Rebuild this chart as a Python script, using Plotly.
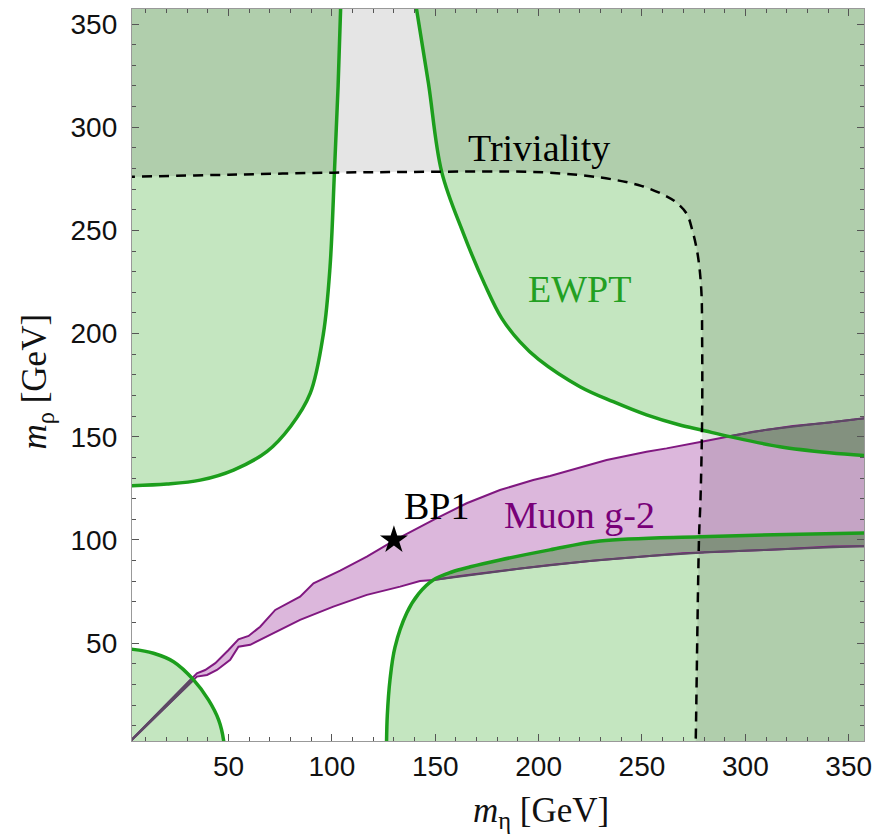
import numpy as np
import plotly.graph_objects as go

# ---- axis extents (GeV) ----
X_RANGE = [3.3, 357.4]
Y_RANGE = [2.6, 357.3]
LO, HI = -5.0, 365.0  # closing corners for the shaded regions (outside the frame)

# ---- EWPT exclusion boundaries ----
ewpt_tl_x = [0.0, 20.2, 36.3, 52.4, 68.5, 80.0, 89.5, 95.9, 99.1, 101.2, 103.0, 104.3]
ewpt_tl_y = [126.2, 127.1, 129.0, 133.9, 142.8, 155.0, 171.0, 200.0, 232.4, 277.6, 320.0, 360.0]

ewpt_tr_x = [140.5, 146.7, 153.1, 163.6, 174.1, 182.1, 191.0, 200.0, 220.0, 236.1, 252.2, 268.3, 278.8, 292.5, 316.7, 340.8, 360.0]
ewpt_tr_y = [360.0, 321.3, 278.4, 248.6, 223.5, 207.5, 196.0, 187.5, 174.3, 167.0, 160.6, 155.7, 153.3, 150.1, 145.2, 142.3, 140.8]

ewpt_br_x = [126.4, 126.8, 128.1, 130.5, 136.2, 142.0, 149.0, 158.0, 167.0, 181.3, 205.4, 229.7, 278.0, 320.0, 360.0]
ewpt_br_y = [0.0, 15.0, 32.2, 48.0, 64.6, 74.0, 80.6, 84.5, 87.0, 90.3, 95.2, 99.5, 101.6, 102.7, 103.4]

ewpt_bl_x = [0.0, 3.8, 13.7, 23.4, 33.1, 40.3, 45.2, 47.6, 47.8]
ewpt_bl_y = [47.2, 47.0, 45.1, 41.0, 32.2, 22.5, 12.8, 3.0, 0.0]

# ---- triviality bound ----
triv_x = [0.0, 4.1, 50.0, 100.8, 147.5, 195.8, 220.0, 237.0, 250.0, 260.0, 266.0, 271.5, 274.5, 277.0, 278.7, 279.1, 279.1, 278.3, 277.6, 276.0, 275.9]
triv_y = [275.9, 276.0, 277.0, 278.0, 278.4, 278.4, 276.8, 274.5, 271.5, 267.5, 264.0, 258.3, 249.5, 238.0, 221.0, 197.0, 160.0, 119.4, 101.6, 3.1, 0.0]

# ---- muon g-2 band ----
g2_upper_x = [0.0, 34.7, 38.7, 43.6, 50.0, 54.8, 59.7, 65.3, 72.6, 78.2, 84.6, 91.1, 104.0, 116.9, 126.5, 129.8,
              149.1, 165.2, 181.3, 197.4, 205.5, 232.9, 252.2, 261.9, 278.8, 292.5, 303.8, 323.1, 340.8, 357.4, 360.0]
g2_upper_y = [0.0, 35.4, 37.0, 40.3, 46.7, 51.9, 53.5, 58.0, 66.1, 69.0, 72.5, 79.0, 85.2, 91.9, 97.6, 99.6,
              109.7, 117.8, 124.2, 129.1, 131.0, 138.8, 142.8, 144.4, 147.6, 150.4, 152.5, 155.2, 156.9, 159.0, 159.2]
g2_lower_x = [0.0, 34.7, 39.6, 44.4, 50.8, 54.8, 60.5, 71.7, 84.6, 100.7, 116.9, 133.0, 142.6, 149.1, 162.0,
              181.3, 205.4, 229.7, 269.9, 310.2, 342.4, 360.0]
g2_lower_y = [0.0, 33.8, 34.6, 37.0, 41.9, 48.3, 49.2, 54.8, 61.3, 67.7, 73.4, 77.4, 80.1, 80.6, 82.6,
              85.0, 87.9, 90.3, 93.6, 95.2, 96.8, 97.0]

# benchmark point
bp_x, bp_y = [130.0], [100.0]

# ---- colours ----
GREEN_FILL = "rgb(196,230,192)"
GREEN_LINE = "rgb(28,158,28)"
PURPLE_FILL = "rgb(220,183,220)"
PURPLE_LINE = "rgb(128,24,128)"
OVERLAP_FILL = "rgb(146,162,142)"
OVERLAP_LINE = "rgb(92,74,100)"
TRIV_FILL = "rgba(0,0,0,0.10)"

fig = go.Figure()


def area(xs, ys, color):
    fig.add_trace(go.Scatter(x=xs, y=ys, mode="lines", fill="toself", fillcolor=color,
                             line=dict(width=0), hoverinfo="skip"))


def region(cx, cy, bx, by, color):
    """Fill between a smooth boundary (cx, cy) and a straight outer frame (bx, by)."""
    fig.add_trace(go.Scatter(x=bx, y=by, mode="lines", line=dict(width=0), hoverinfo="skip"))
    fig.add_trace(go.Scatter(x=cx, y=cy, mode="lines", line=dict(width=0, shape="spline", smoothing=1.0),
                             fill="tonexty", fillcolor=color, hoverinfo="skip"))


def curve(xs, ys, color, width, dash=None, shape="linear"):
    fig.add_trace(go.Scatter(x=xs, y=ys, mode="lines",
                             line=dict(color=color, width=width, dash=dash, shape=shape,
                                       smoothing=1.0 if shape == "spline" else None),
                             connectgaps=False, hoverinfo="skip"))


# EWPT excluded regions
region(ewpt_tl_x, ewpt_tl_y, [LO, LO, ewpt_tl_x[-1]], [ewpt_tl_y[0], HI, HI], GREEN_FILL)
region(ewpt_tr_x, ewpt_tr_y, [ewpt_tr_x[0], HI, HI], [HI, HI, ewpt_tr_y[-1]], GREEN_FILL)
region(ewpt_br_x, ewpt_br_y, [ewpt_br_x[0], HI, HI], [LO, LO, ewpt_br_y[-1]], GREEN_FILL)
region(ewpt_bl_x, ewpt_bl_y, [LO, LO, ewpt_bl_x[-1]], [ewpt_bl_y[0], LO, LO], GREEN_FILL)

# g-2 preferred band
area(g2_upper_x + g2_lower_x[::-1], g2_upper_y + g2_lower_y[::-1], PURPLE_FILL)

# parts of the band that fall inside the EWPT regions
grid = np.linspace(0.0, 360.0, 1441)
up = np.interp(grid, g2_upper_x, g2_upper_y)
lo = np.interp(grid, g2_lower_x, g2_lower_y)
br = np.interp(grid, ewpt_br_x, ewpt_br_y, left=-1e9)
tr = np.interp(grid, ewpt_tr_x, ewpt_tr_y, left=1e9)
bl = np.interp(grid, ewpt_bl_x, ewpt_bl_y, right=-1e9)


def overlap(mask, top, bot):
    if mask.any():
        gx = grid[mask]
        area(list(np.concatenate([gx, gx[::-1]])),
             list(np.concatenate([top[mask], bot[mask][::-1]])), OVERLAP_FILL)


overlap(br > lo, np.minimum(br, up), lo)
overlap(up > tr, up, np.maximum(tr, lo))
overlap(bl > lo, np.minimum(bl, up), lo)

# triviality excluded region
region(triv_x, triv_y, [LO, LO, HI, HI, triv_x[-1]], [triv_y[0], HI, HI, LO, LO], TRIV_FILL)

# band edges
curve(g2_upper_x, g2_upper_y, PURPLE_LINE, 2)
curve(g2_lower_x, g2_lower_y, PURPLE_LINE, 2)
in_up = (up < br) | (up > tr) | (up < bl)
in_lo = (lo < br) | (lo > tr) | (lo < bl)
curve(grid, np.where(in_up, up, np.nan), OVERLAP_LINE, 2)
curve(grid, np.where(in_lo, lo, np.nan), OVERLAP_LINE, 2)

# EWPT boundaries
for cx, cy in [(ewpt_tl_x, ewpt_tl_y), (ewpt_tr_x, ewpt_tr_y), (ewpt_br_x, ewpt_br_y), (ewpt_bl_x, ewpt_bl_y)]:
    curve(cx, cy, GREEN_LINE, 3.5, shape="spline")

# triviality boundary
curve(triv_x, triv_y, "black", 2.5, dash="10px,7px", shape="spline")

# benchmark point
fig.add_trace(go.Scatter(x=bp_x, y=bp_y, mode="markers",
                         marker=dict(symbol="star", size=21, color="black", line=dict(width=0)),
                         hoverinfo="skip"))

# empty trace that carries the top / right tick axes
fig.add_trace(go.Scatter(x=[None], y=[None], xaxis="x2", yaxis="y2", hoverinfo="skip"))

SERIF = "Liberation Serif"
labels = [
    ("Triviality", 200.2, 289.9, "black"),
    ("EWPT", 219.7, 221.6, "rgb(34,160,34)"),
    ("Muon g-2", 220.0, 112.0, "rgb(120,0,120)"),
    ("BP1", 150.6, 116.5, "black"),
]
for text, x, y, color in labels:
    fig.add_annotation(x=x, y=y, text=text, showarrow=False, xanchor="center", yanchor="middle",
                       font=dict(family=SERIF, size=38, color=color))

# axis titles
title_font = dict(family=SERIF, size=35, color="#111")
fig.add_annotation(xref="paper", yref="paper", x=0.5587, y=-0.097, text="<i>m</i><sub>η</sub> [GeV]",
                   showarrow=False, xanchor="center", yanchor="middle", font=title_font)
fig.add_annotation(xref="paper", yref="paper", x=-0.1298, y=0.491, text="<i>m</i><sub>ρ</sub> [GeV]",
                   showarrow=False, xanchor="center", yanchor="middle", textangle=-90, font=title_font)

tick_style = dict(
    tick0=0, dtick=50, ticks="inside", ticklen=7, tickwidth=1.2, tickcolor="#555",
    showgrid=False, zeroline=False,
    minor=dict(ticks="inside", ticklen=4, tickwidth=1, tickcolor="#555", dtick=10, tick0=0, showgrid=False),
)
label_font = dict(family="Liberation Sans", size=28, color="#111")

fig.update_layout(
    width=877, height=840, margin=dict(l=132, r=13, t=9, b=99, autoexpand=False),
    plot_bgcolor="white", paper_bgcolor="white", showlegend=False,
    xaxis=dict(range=X_RANGE, showline=True, linecolor="#999", linewidth=1.3, mirror=True,
               tickfont=label_font, ticklabelstandoff=0, **tick_style),
    yaxis=dict(range=Y_RANGE, showline=True, linecolor="#999", linewidth=1.3, mirror=True,
               tickfont=label_font, ticklabelstandoff=8, **tick_style),
    xaxis2=dict(range=X_RANGE, overlaying="x", side="top", showticklabels=False, showline=False, **tick_style),
    yaxis2=dict(range=Y_RANGE, overlaying="y", side="right", showticklabels=False, showline=False, **tick_style),
)

fig.write_html("out.html")
